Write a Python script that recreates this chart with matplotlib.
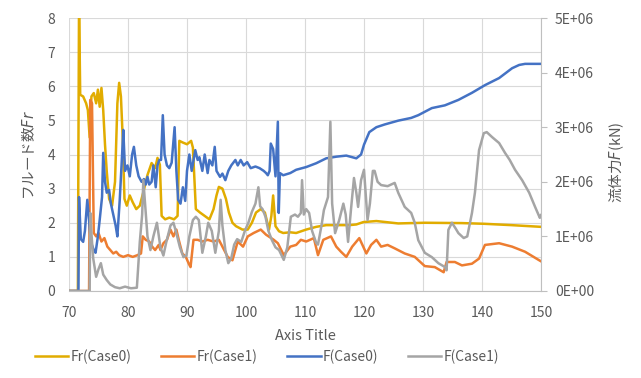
import numpy as np
import matplotlib.pyplot as plt
from matplotlib.ticker import FuncFormatter

plt.rcParams['font.family'] = ['Noto Sans CJK JP', 'DejaVu Sans']

# Fr(Case0)
fr0_x = [70, 71.5, 71.7, 71.9, 72.4, 72.9, 73.2, 73.5, 73.8, 74.2,
         74.6, 74.9, 75.2, 75.5, 75.8, 76.1, 76.4, 76.8, 77.3, 77.8,
         78.2, 78.5, 78.8, 79.1, 79.4, 79.8, 80.3, 80.8, 81.4, 82.0,
         82.6, 83.3, 84.0, 84.6, 85.0, 85.4, 85.7, 86.3, 87.0, 87.8,
         88.4, 88.7, 89.3, 90.0, 90.7, 91.0, 91.5, 92.2, 93.0, 93.8,
         94.5, 95.0, 95.4, 96.0, 96.6, 97.1, 97.7, 98.3, 99.4, 100.3,
         101.0, 101.7, 102.5, 103.2, 103.9, 104.3, 104.6, 105.0, 105.6, 106.3,
         107.5, 108.5, 110.2, 111.9, 113.6, 115.5, 117.5, 118.7, 119.9, 122.1,
         125.8, 130.3, 136.6, 140.3, 145.0, 150.0]
fr0 = [0, 0, 8.5, 5.75, 5.7, 5.5, 5.3, 4.5, 5.7, 5.8,
       5.5, 5.9, 5.4, 5.95, 5.3, 4.3, 3.5, 2.7, 2.5, 3.2,
       5.5, 6.1, 5.7, 4.5, 2.7, 2.5, 2.8, 2.6, 2.4, 2.5,
       2.9, 3.4, 3.75, 3.6, 3.9, 3.7, 2.2, 2.1, 2.15, 2.1,
       2.2, 4.4, 4.35, 4.3, 4.4, 4.2, 2.4, 2.3, 2.2, 2.1,
       2.4, 2.8, 3.05, 3.0, 2.7, 2.3, 2.0, 1.9, 1.8, 1.8,
       2.0, 2.3, 2.4, 2.3, 1.8, 2.2, 2.8, 1.9, 1.75, 1.7,
       1.72, 1.7, 1.8, 1.88, 1.93, 1.93, 1.93, 1.95, 2.02, 2.05,
       1.98, 2.0, 1.99, 1.97, 1.93, 1.88]

# Fr(Case1)
fr1_x = [70, 73.4, 73.6, 73.9, 74.2, 74.6, 75.0, 75.5, 76.0, 76.5,
         77.0, 77.5, 78.0, 78.5, 79.2, 80.0, 80.8, 81.6, 82.2, 82.5,
         83.0, 83.6, 84.1, 84.6, 85.2, 85.5, 86.0, 86.6, 87.2, 87.7,
         88.2, 88.6, 89.2, 89.8, 90.3, 90.6, 91.1, 91.8, 92.6, 93.5,
         94.5, 95.4, 96.9, 97.7, 98.6, 99.5, 100.3, 101.3, 102.5, 103.4,
         104.7, 105.4, 106.4, 107.5, 108.5, 109.3, 110.2, 111.5, 112.2, 113.1,
         114.4, 115.3, 116.1, 117.0, 118.0, 119.2, 120.4, 121.2, 122.1, 122.9,
         124.0, 125.2, 126.9, 128.6, 130.3, 132.0, 133.5, 134.0, 135.4, 136.6,
         138.3, 139.5, 140.5, 142.9, 145.1, 147.3, 149.7, 150.0]
fr1 = [0, 0, 5.6, 5.5, 1.7, 1.6, 1.7, 1.45, 1.55, 1.3,
       1.2, 1.1, 1.15, 1.05, 1.0, 1.05, 1.0, 1.05, 1.1, 1.6,
       1.5, 1.45, 1.3, 1.2, 1.35, 1.2, 1.4, 1.5, 1.8, 1.6,
       1.8, 1.5, 1.1, 1.0, 0.8, 0.7, 1.5, 1.5, 1.45, 1.5,
       1.45, 1.5, 1.0, 0.9, 1.45, 1.3, 1.6, 1.7, 1.8, 1.65,
       1.5, 1.4, 1.05, 1.3, 1.35, 1.5, 1.45, 1.55, 1.05, 1.5,
       1.6, 1.3, 1.15, 1.0, 1.3, 1.55, 1.1, 1.35, 1.5, 1.3,
       1.35, 1.25, 1.1, 1.0, 0.73, 0.7, 0.55, 0.85, 0.85, 0.75,
       0.8, 0.95, 1.35, 1.4, 1.3, 1.15, 0.9, 0.87]

# F(Case0), in 1E+06
f0_x = [70, 71.6, 71.7, 72.0, 72.4, 72.7, 73.1, 73.4, 73.7, 74.2,
        74.5, 74.9, 75.2, 75.6, 75.8, 76.1, 76.4, 76.8, 77.1, 77.5,
        77.9, 78.2, 78.6, 79.0, 79.2, 79.5, 79.9, 80.3, 80.7, 81.0,
        81.4, 81.8, 82.3, 82.7, 83.0, 83.3, 83.6, 84.0, 84.3, 84.7,
        85.0, 85.3, 85.6, 85.9, 86.2, 86.6, 87.0, 87.4, 87.9, 88.2,
        88.5, 88.9, 89.3, 89.7, 90.0, 90.4, 90.8, 91.4, 91.8, 92.1,
        92.6, 93.0, 93.5, 93.8, 94.3, 94.7, 95.0, 95.6, 96.0, 96.5,
        97.0, 97.5, 98.2, 98.6, 99.1, 99.6, 100.2, 100.8, 101.6, 102.3,
        103.0, 103.4, 103.7, 104.0, 104.2, 104.6, 105.0, 105.4, 105.55, 105.75,
        106.3, 107.5, 108.5, 110.2, 111.9, 113.6, 115.3, 117.0, 118.7, 119.5,
        120.0, 120.9, 122.1, 123.5, 125.8, 128.0, 129.2, 131.5, 133.7, 136.0,
        138.3, 140.5, 142.9, 145.1, 146.3, 147.3, 150.0]
f0 = [0, 0, 1.72, 0.95, 0.9, 1.1, 1.67, 1.3, 0.9, 0.75,
      0.7, 1.0, 1.3, 1.72, 2.53, 2.0, 1.8, 1.85, 1.6, 1.4,
      1.2, 1.0, 1.67, 2.5, 2.95, 2.2, 2.3, 2.1, 2.5, 2.64,
      2.3, 2.1, 2.0, 2.05, 1.95, 2.09, 1.95, 2.0, 2.3, 1.9,
      2.3, 2.4, 2.4, 3.22, 2.5, 2.3, 2.25, 2.35, 3.0, 2.2,
      1.67, 1.6, 1.9, 1.65, 2.2, 2.5, 2.2, 2.58, 2.4, 2.45,
      2.2, 2.5, 2.16, 2.4, 2.3, 2.64, 2.2, 2.09, 2.15, 2.03,
      2.2, 2.3, 2.4, 2.3, 2.4, 2.3, 2.36, 2.25, 2.28, 2.25,
      2.2, 2.16, 2.12, 2.2, 2.7, 2.6, 2.1, 3.1, 1.43, 2.16,
      2.12, 2.16, 2.22, 2.27, 2.34, 2.43, 2.46, 2.48, 2.43, 2.5,
      2.68, 2.91, 3.0, 3.05, 3.12, 3.17, 3.22, 3.35, 3.4, 3.5,
      3.63, 3.77, 3.9, 4.08, 4.14, 4.16, 4.16]

# F(Case1), in 1E+06
f1_x = [70, 73.5, 73.6, 73.8, 74.1, 74.6, 75.0, 75.4, 75.8, 76.4,
        77.0, 77.8, 78.6, 79.5, 80.5, 81.5, 82.0, 82.4, 82.6, 82.9,
        83.3, 83.8, 84.3, 84.9, 85.5, 86.0, 86.5, 87.2, 87.7, 88.1,
        88.8, 89.4, 89.9, 90.4, 91.0, 91.5, 92.0, 92.6, 93.2, 93.6,
        94.2, 94.8, 95.4, 95.7, 96.0, 96.5, 97.0, 97.5, 98.0, 98.5,
        99.2, 99.8, 100.4, 101.0, 101.6, 102.1, 102.4, 102.8, 103.3, 103.8,
        104.4, 105.0, 105.6, 106.4, 107.0, 107.6, 108.3, 108.8, 109.3, 109.5,
        109.8, 110.2, 110.7, 111.2, 111.9, 112.2, 112.8, 113.2, 113.9, 114.3,
        114.6, 115.1, 115.8, 116.5, 116.9, 117.3, 117.8, 118.3, 118.7, 119.0,
        119.5, 120.0, 120.6, 121.0, 121.5, 121.8, 122.3, 122.9, 124.0, 125.2,
        125.8, 126.9, 128.0, 128.6, 129.2, 130.3, 131.5, 132.6, 133.7, 134.0,
        134.3, 134.9, 135.5, 136.0, 136.9, 137.5, 138.3, 138.8, 139.5, 140.3,
        140.8, 141.7, 142.9, 143.9, 144.7, 145.6, 146.8, 148.0, 149.0, 149.8,
        150.0]
f1 = [0, 0, 1.43, 1.06, 0.6, 0.26, 0.4, 0.51, 0.3, 0.2,
      0.12, 0.07, 0.05, 0.08, 0.05, 0.06, 0.9, 1.4, 2.03, 1.6,
      1.0, 0.75, 1.0, 1.25, 0.8, 0.65, 0.9, 1.2, 1.25, 1.1,
      0.8, 0.62, 0.65, 1.0, 1.3, 1.36, 1.3, 0.7, 1.0, 1.25,
      1.1, 0.7, 1.1, 1.67, 1.2, 0.75, 0.51, 0.6, 0.85, 0.95,
      0.9, 1.1, 1.25, 1.45, 1.6, 1.9, 1.55, 1.5, 1.36, 1.1,
      0.93, 0.8, 0.75, 0.57, 0.8, 1.36, 1.4, 1.36, 1.43, 2.03,
      1.4, 1.5, 1.43, 1.1, 0.88, 0.85, 1.2, 1.48, 1.72, 3.1,
      1.6, 1.06, 1.3, 1.6, 1.4, 0.9, 1.5, 2.07, 1.8, 1.54,
      2.03, 2.22, 1.3, 1.6, 2.2, 2.2, 2.0, 1.94, 1.92, 1.98,
      1.8, 1.54, 1.43, 1.25, 0.93, 0.7, 0.62, 0.51, 0.44, 0.38,
      1.12, 1.25, 1.15, 1.06, 0.97, 1.0, 1.43, 1.8, 2.58, 2.89,
      2.91, 2.82, 2.71, 2.53, 2.4, 2.22, 2.03, 1.8, 1.54, 1.34,
      1.39]

labels = ['Fr(Case0)', 'Fr(Case1)', 'F(Case0)', 'F(Case1)']
colors = ['#E1AC00', '#ED7D31', '#4472C4', '#A5A5A5']
txt = '#595959'
axis_gray = '#BFBFBF'

fig = plt.figure(figsize=(6.41, 3.78), dpi=100)
ax = fig.add_axes([69/641, 87/378, 472/641, 273/378])
ax2 = ax.twinx()

l1, = ax.plot(fr0_x, fr0, color=colors[0], lw=1.8)
l2, = ax.plot(fr1_x, fr1, color=colors[1], lw=1.8)
l3, = ax2.plot(f0_x, np.array(f0) * 1e6, color=colors[2], lw=1.8)
l4, = ax2.plot(f1_x, np.array(f1) * 1e6, color=colors[3], lw=1.8)

ax.set_xlim(70, 150)
ax.set_ylim(0, 8)
ax2.set_ylim(0, 5e6)
ax.set_xticks(range(70, 151, 10))
ax.set_yticks(range(0, 9))
ax2.set_yticks(np.arange(0, 5.1e6, 1e6))
ax2.yaxis.set_major_formatter(FuncFormatter(
    lambda v, p: '0E+00' if v == 0 else f'{v / 1e6:.0f}E+06'))

ax.grid(True, color='#D9D9D9', lw=0.8)
ax.set_axisbelow(True)
for s in ['top', 'left', 'right']:
    ax.spines[s].set_visible(False)
for s in ['top', 'left', 'bottom']:
    ax2.spines[s].set_visible(False)
ax.spines['bottom'].set_color(axis_gray)
ax2.spines['right'].set_color(axis_gray)

ax.tick_params(axis='x', length=0, pad=11, labelsize=10, labelcolor=txt)
ax.tick_params(axis='y', length=0, pad=10, labelsize=10, labelcolor=txt)
ax2.tick_params(axis='y', length=4, color=axis_gray, pad=6, labelsize=10, labelcolor=txt)

ax.set_xlabel('Axis Title', fontsize=10.5, color=txt)
ax.xaxis.set_label_coords(0.5, -0.14)
ax.set_ylabel('フルード数$\\mathit{Fr}$', fontsize=10.5, color=txt)
ax.yaxis.set_label_coords(-0.068, 0.5)
ax2.set_ylabel('流体力$\\mathit{F}$(kN)', fontsize=10.5, color=txt, rotation=90)
ax2.yaxis.set_label_coords(1.14, 0.47)

leg = fig.legend([l1, l2, l3, l4], labels, ncol=4, loc='center left',
                 bbox_to_anchor=(35/641, 21/378), frameon=False, fontsize=10,
                 handlelength=2.4, handletextpad=0.15, columnspacing=2.15,
                 borderpad=0, borderaxespad=0)
for t in leg.get_texts():
    t.set_color(txt)

fig.savefig('out.png', dpi=100)
